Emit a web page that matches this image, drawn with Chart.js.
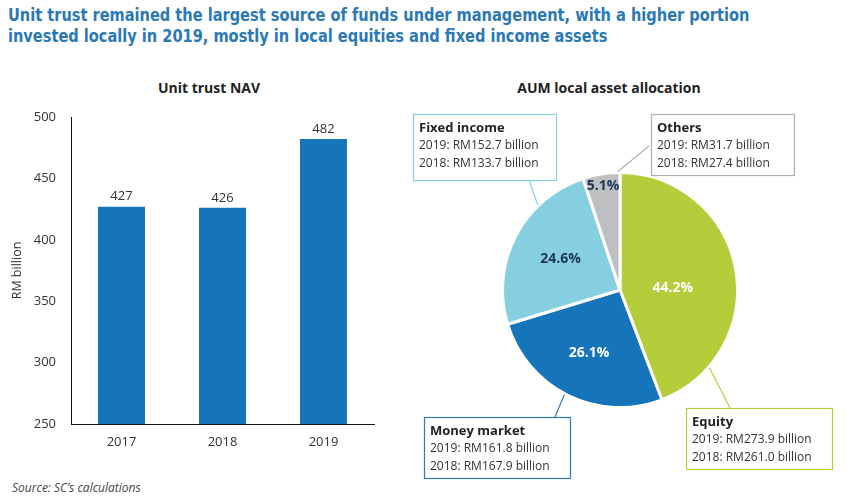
<!DOCTYPE html>
<html>
<head>
<meta charset="utf-8">
<script src="https://cdn.jsdelivr.net/npm/chart.js@4"></script>
<style>
  html, body { margin: 0; padding: 0; background: #fff; }
  body { width: 848px; height: 501px; position: relative; overflow: hidden; font-family: "Open Sans", sans-serif; }
  #title {
    position: absolute; left: 8px; top: 4px; width: 940px; white-space: nowrap;
    font-family: "Liberation Sans Narrow", "DejaVu Sans Condensed", sans-serif;
    font-stretch: condensed; font-weight: bold; font-size: 18px; line-height: 21px; color: #2a78b6;
    transform: scaleX(0.9); transform-origin: 0 0;
  }
  .sub { position: absolute; top: 78px; font-weight: bold; font-size: 14px; color: #222; transform: translateX(-50%); white-space: nowrap; }
  #source { position: absolute; left: 12px; top: 479px; font-style: italic; font-size: 12px; color: #444; }
  canvas { position: absolute; top: 0; }
</style>
</head>
<body>
<div id="title">Unit trust remained the largest source of funds under management, with a higher portion<br>invested locally in 2019, mostly in local equities and fixed income assets</div>
<div class="sub" style="left:209px">Unit trust NAV</div>
<div class="sub" style="left:609px">AUM local asset allocation</div>
<div id="source">Source: SC’s calculations</div>
<div style="position:absolute;left:0;top:0;width:400px;height:501px"><canvas id="navChart"></canvas></div>
<div style="position:absolute;left:400px;top:0;width:448px;height:501px"><canvas id="aumChart"></canvas></div>

<script>
// Unit trust NAV (RM billion)
const years = ['2017', '2018', '2019'];
const navValues = [427, 426, 482];
const navTicks = [250, 300, 350, 400, 450, 500];

// AUM local asset allocation, 2019 share (%)
const assetNames = ['Equity', 'Money market', 'Fixed income', 'Others'];
const assetShares = [44.2, 26.1, 24.6, 5.1];
const assets2019 = ['RM273.9 billion', 'RM161.8 billion', 'RM152.7 billion', 'RM31.7 billion'];
const assets2018 = ['RM261.0 billion', 'RM167.9 billion', 'RM133.7 billion', 'RM27.4 billion'];

const BLUE = '#1574ba';
const sliceColors = ['#b5cd3b', BLUE, '#86cfe1', '#bebfc1'];
const sliceLabelColors = ['#fff', '#fff', '#1e3658', '#1e3658'];
// label placement inside each slice: fraction of radius, angle shift (deg)
const sliceLabelRadius = [0.45, 0.6, 0.57, 0.9];
const sliceLabelShift = [8, 0, 0, 0];

const FONT = '"Open Sans", sans-serif';

// value labels above the bars
const barLabels = {
    id: 'barLabels',
    afterDatasetsDraw(chart) {
        const ctx = chart.ctx;
        const meta = chart.getDatasetMeta(0);
        ctx.save();
        ctx.font = '13px ' + FONT;
        ctx.fillStyle = '#333';
        ctx.textAlign = 'center';
        ctx.textBaseline = 'middle';
        meta.data.forEach((bar, i) => {
            ctx.fillText(String(navValues[i]), bar.x, bar.y - 10);
        });
        ctx.restore();
    }
};

new Chart(document.getElementById('navChart'), {
    type: 'bar',
    data: {
        labels: years,
        datasets: [{ data: navValues, backgroundColor: BLUE, categoryPercentage: 1, barPercentage: 0.465 }]
    },
    options: {
        responsive: true,
        maintainAspectRatio: false,
        animation: false,
        layout: { padding: { top: 117, right: 26, bottom: 0, left: 0 } },
        plugins: { legend: { display: false }, tooltip: { enabled: false } },
        scales: {
            x: {
                grid: { display: false, drawTicks: false },
                border: { display: true, color: '#111', width: 1 },
                ticks: { color: '#333', font: { size: 13, family: FONT }, padding: 10 },
                afterFit: s => { s.height = 77; }
            },
            y: {
                min: 250, max: 500,
                afterBuildTicks: s => { s.ticks = navTicks.map(v => ({ value: v })); },
                grid: { display: false, drawTicks: false },
                border: { display: true, color: '#111', width: 1 },
                ticks: { color: '#333', font: { size: 13, family: FONT }, padding: 15 },
                title: { display: true, text: 'RM billion', color: '#333', font: { size: 12.5, family: FONT }, padding: 10 },
                afterFit: s => { s.width = 71; }
            }
        }
    },
    plugins: [barLabels]
});

// callout boxes: position of box in canvas px, pie angle (deg from top) for the leader line
const callouts = [
    { box: [286, 408, 146, 61], angle: 131, end: [330, 408] },
    { box: [24, 417, 146, 61], angle: 208, end: [155, 417] },
    { box: [13, 114, 143, 66], angle: 316, end: [129, 180] },
    { box: [251, 114, 143, 61], angle: 359, end: [249, 146] }
];
const calloutBorder = ['#b5cd3b', '#2f79b5', '#86cfe1', '#b0b0b0'];

const pieLabels = {
    id: 'pieLabels',
    afterDatasetsDraw(chart) {
        const ctx = chart.ctx;
        const arcs = chart.getDatasetMeta(0).data;
        ctx.save();
        ctx.font = 'bold 14px ' + FONT;
        ctx.textAlign = 'center';
        ctx.textBaseline = 'middle';
        arcs.forEach((arc, i) => {
            const p = arc.getProps(['x', 'y', 'startAngle', 'endAngle', 'outerRadius'], true);
            const mid = (p.startAngle + p.endAngle) / 2 + sliceLabelShift[i] * Math.PI / 180;
            const r = p.outerRadius * sliceLabelRadius[i];
            ctx.fillStyle = sliceLabelColors[i];
            ctx.fillText(assetShares[i].toFixed(1) + '%', p.x + Math.cos(mid) * r, p.y + Math.sin(mid) * r);
        });

        // callouts
        const c = arcs[0].getProps(['x', 'y', 'outerRadius'], true);
        callouts.forEach((co, i) => {
            const a = (co.angle - 90) * Math.PI / 180;
            const sx = c.x + Math.cos(a) * (c.outerRadius + 1);
            const sy = c.y + Math.sin(a) * (c.outerRadius + 1);
            ctx.strokeStyle = calloutBorder[i];
            ctx.lineWidth = 1.2;
            ctx.beginPath();
            ctx.moveTo(sx, sy);
            ctx.lineTo(co.end[0], co.end[1]);
            ctx.stroke();
            const [bx, by, bw, bh] = co.box;
            ctx.fillStyle = '#fff';
            ctx.fillRect(bx, by, bw, bh);
            ctx.strokeRect(bx + 0.5, by + 0.5, bw, bh);
            ctx.textAlign = 'left';
            ctx.fillStyle = '#222';
            ctx.font = 'bold 13px ' + FONT;
            ctx.fillText(assetNames[i], bx + 6, by + 14);
            ctx.fillStyle = '#333';
            ctx.font = '12px ' + FONT;
            ctx.fillText('2019: ' + assets2019[i], bx + 6, by + 32);
            ctx.fillText('2018: ' + assets2018[i], bx + 6, by + 50);
        });
        ctx.restore();
    }
};

new Chart(document.getElementById('aumChart'), {
    type: 'pie',
    data: {
        labels: assetNames,
        datasets: [{ data: assetShares, backgroundColor: sliceColors, borderColor: '#fff', borderWidth: 3 }]
    },
    options: {
        responsive: true,
        maintainAspectRatio: false,
        animation: false,
        layout: { padding: { top: 171, right: 109, bottom: 92, left: 101 } },
        plugins: { legend: { display: false }, tooltip: { enabled: false } }
    },
    plugins: [pieLabels]
});
</script>
</body>
</html>
